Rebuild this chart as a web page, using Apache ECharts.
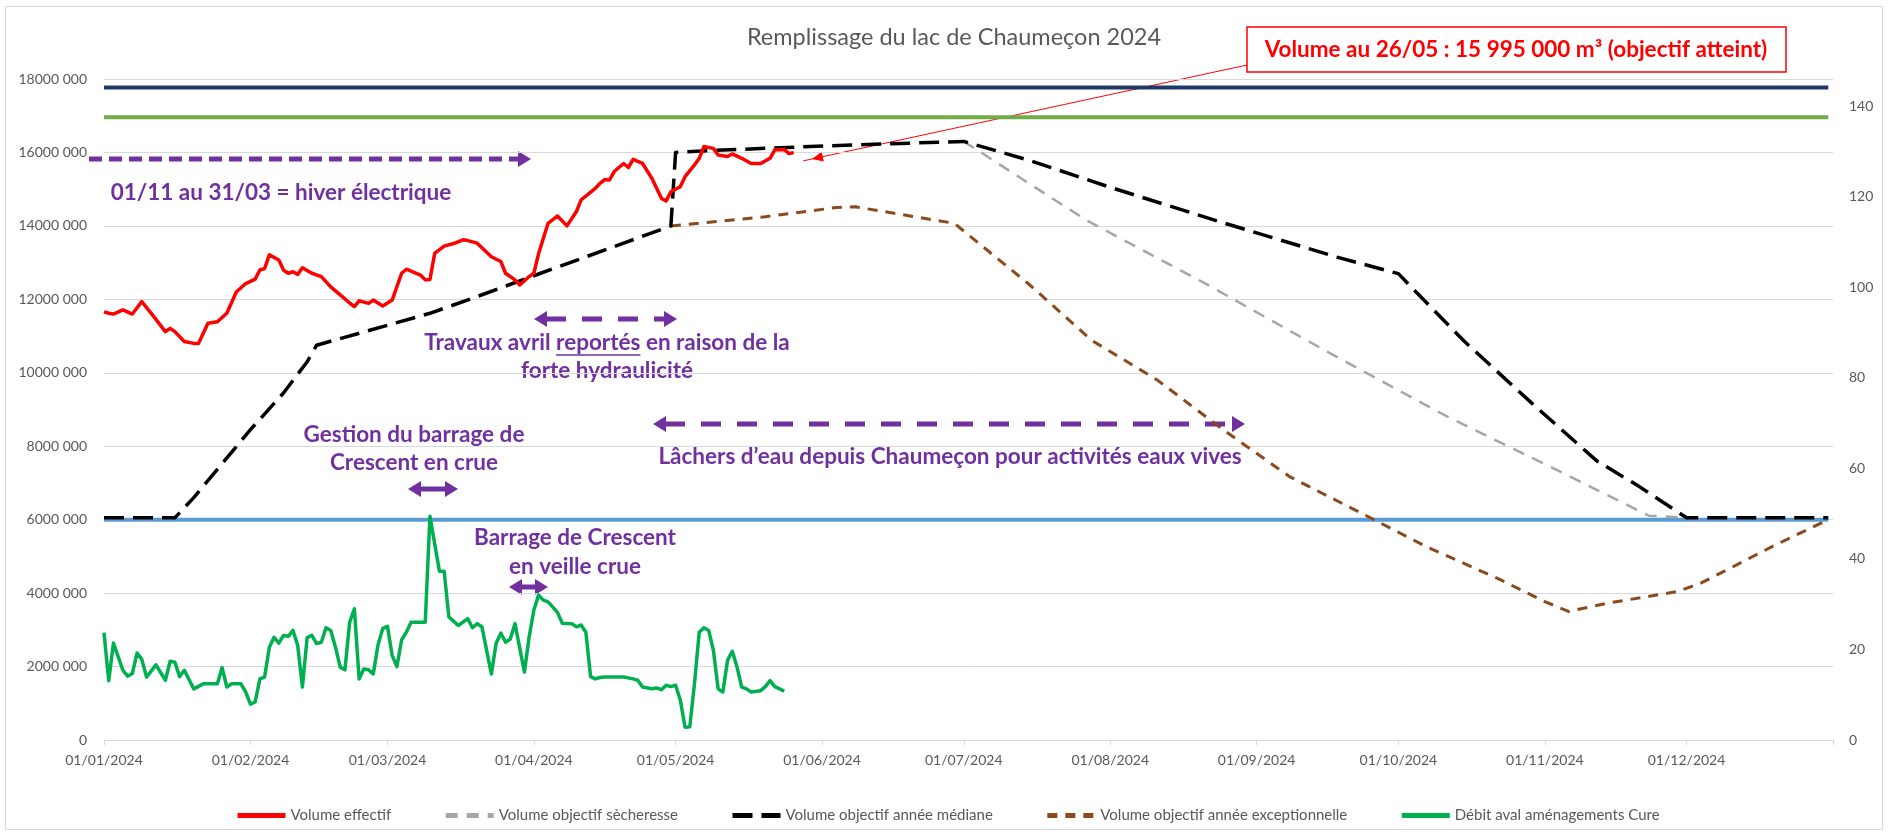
<!DOCTYPE html>
<html lang="fr">
<head>
<meta charset="UTF-8">
<title>Remplissage du lac de Chaumeçon 2024</title>
<script src="https://cdn.jsdelivr.net/npm/echarts@6/dist/echarts.min.js"></script>
<style>
html, body { margin: 0; padding: 0; background: #fff; }
#main { width: 1889px; height: 837px; }
</style>
</head>
<body>
<div id="main"></div>
<script type="text/javascript">
// Volumes in millions of m3 (left axis), flow on the right axis

const monthTicks = ['2024-01-01', '2024-02-01', '2024-03-01', '2024-04-01', '2024-05-01', '2024-06-01',
  '2024-07-01', '2024-08-01', '2024-09-01', '2024-10-01', '2024-11-01', '2024-12-01', '2025-01-01'];

const volumeEffectif = [
  ['2024-01-01', 11.66], ['2024-01-02', 11.62], ['2024-01-03', 11.6], ['2024-01-05', 11.71], ['2024-01-07', 11.6],
  ['2024-01-09', 11.94], ['2024-01-11', 11.62], ['2024-01-14', 11.12], ['2024-01-15', 11.21], ['2024-01-16', 11.12],
  ['2024-01-18', 10.85], ['2024-01-20', 10.8], ['2024-01-21', 10.8], ['2024-01-23', 11.35], ['2024-01-25', 11.39],
  ['2024-01-27', 11.62], ['2024-01-29', 12.2], ['2024-01-31', 12.43], ['2024-02-02', 12.55], ['2024-02-03', 12.8],
  ['2024-02-04', 12.84], ['2024-02-05', 13.21], ['2024-02-07', 13.07], ['2024-02-08', 12.8], ['2024-02-09', 12.71],
  ['2024-02-10', 12.75], ['2024-02-11', 12.68], ['2024-02-12', 12.86], ['2024-02-14', 12.71], ['2024-02-16', 12.62],
  ['2024-02-18', 12.34], ['2024-02-20', 12.12], ['2024-02-22', 11.9], ['2024-02-23', 11.8], ['2024-02-24', 11.96],
  ['2024-02-26', 11.89], ['2024-02-27', 11.98], ['2024-02-29', 11.82], ['2024-03-02', 11.98], ['2024-03-04', 12.71],
  ['2024-03-05', 12.82], ['2024-03-08', 12.66], ['2024-03-09', 12.53], ['2024-03-10', 12.54], ['2024-03-11', 13.25],
  ['2024-03-13', 13.45], ['2024-03-15', 13.52], ['2024-03-17', 13.62], ['2024-03-18', 13.6], ['2024-03-20', 13.53],
  ['2024-03-23', 13.16], ['2024-03-25', 13.03], ['2024-03-26', 12.71], ['2024-03-28', 12.53], ['2024-03-29', 12.39],
  ['2024-03-31', 12.62], ['2024-04-01', 12.71], ['2024-04-02', 13.25], ['2024-04-04', 14.07], ['2024-04-06', 14.27],
  ['2024-04-08', 14.0], ['2024-04-10', 14.39], ['2024-04-11', 14.71], ['2024-04-14', 15.02], ['2024-04-15', 15.16],
  ['2024-04-16', 15.26], ['2024-04-17', 15.25], ['2024-04-18', 15.48], ['2024-04-20', 15.7], ['2024-04-21', 15.59],
  ['2024-04-22', 15.81], ['2024-04-24', 15.7], ['2024-04-26', 15.29], ['2024-04-28', 14.75], ['2024-04-29', 14.68],
  ['2024-04-30', 14.93], ['2024-05-01', 15.0], ['2024-05-02', 15.07], ['2024-05-03', 15.34], ['2024-05-05', 15.66],
  ['2024-05-06', 15.84], ['2024-05-07', 16.16], ['2024-05-09', 16.11], ['2024-05-10', 15.93], ['2024-05-12', 15.89],
  ['2024-05-13', 15.96], ['2024-05-15', 15.84], ['2024-05-17', 15.7], ['2024-05-19', 15.7], ['2024-05-21', 15.84],
  ['2024-05-22', 16.07], ['2024-05-24', 16.08], ['2024-05-25', 15.97], ['2024-05-26', 15.995]
];

const objectifSecheresse = [
  ['2024-07-01', 16.3], ['2024-07-27', 14.15], ['2024-08-21', 12.44], ['2024-09-15', 10.64],
  ['2024-10-11', 8.83], ['2024-11-05', 7.26], ['2024-11-23', 6.11], ['2024-12-01', 6.05]
];

const objectifMediane = [
  ['2024-01-01', 6.05], ['2024-01-16', 6.05], ['2024-01-20', 6.6], ['2024-02-01', 8.45], ['2024-02-08', 9.45],
  ['2024-02-13', 10.3], ['2024-02-15', 10.75], ['2024-03-10', 11.62], ['2024-03-19', 12.03], ['2024-04-02', 12.69],
  ['2024-04-20', 13.53], ['2024-04-30', 14.0], ['2024-05-01', 16.0], ['2024-05-08', 16.05], ['2024-06-02', 16.18],
  ['2024-07-01', 16.3], ['2024-07-15', 15.78], ['2024-08-01', 15.05], ['2024-08-25', 14.08], ['2024-09-18', 13.15],
  ['2024-10-01', 12.7], ['2024-10-04', 12.3], ['2024-10-15', 10.85], ['2024-10-29', 9.2], ['2024-11-12', 7.6],
  ['2024-11-21', 6.9], ['2024-12-01', 6.05], ['2024-12-31', 6.05]
];

const objectifExceptionnel = [
  ['2024-04-30', 14.0], ['2024-05-20', 14.25], ['2024-06-04', 14.5], ['2024-06-08', 14.52], ['2024-06-29', 14.07],
  ['2024-07-15', 12.39], ['2024-07-28', 10.89], ['2024-08-11', 9.8], ['2024-08-25', 8.44], ['2024-09-08', 7.17],
  ['2024-09-26', 5.99], ['2024-10-07', 5.26], ['2024-10-22', 4.4], ['2024-11-01', 3.77], ['2024-11-06', 3.5],
  ['2024-11-14', 3.72], ['2024-11-29', 4.04], ['2024-12-04', 4.27], ['2024-12-13', 4.86], ['2024-12-19', 5.26],
  ['2024-12-31', 6.0]
];

const debitCure = [
  ['2024-01-01', 23.7], ['2024-01-02', 13.1], ['2024-01-03', 21.4], ['2024-01-05', 15.4], ['2024-01-06', 14.1],
  ['2024-01-07', 14.7], ['2024-01-08', 19.2], ['2024-01-09', 17.8], ['2024-01-10', 13.9], ['2024-01-12', 16.6],
  ['2024-01-14', 13.2], ['2024-01-15', 17.4], ['2024-01-16', 17.2], ['2024-01-17', 14.0], ['2024-01-18', 15.4],
  ['2024-01-20', 11.3], ['2024-01-22', 12.4], ['2024-01-25', 12.4], ['2024-01-26', 16.0], ['2024-01-27', 11.7],
  ['2024-01-28', 12.4], ['2024-01-30', 12.4], ['2024-01-31', 10.6], ['2024-02-01', 7.9], ['2024-02-02', 8.4],
  ['2024-02-03', 13.5], ['2024-02-04', 13.9], ['2024-02-05', 20.5], ['2024-02-06', 22.7], ['2024-02-07', 21.4],
  ['2024-02-08', 23.1], ['2024-02-09', 22.9], ['2024-02-10', 24.2], ['2024-02-11', 20.9], ['2024-02-12', 11.7],
  ['2024-02-13', 22.6], ['2024-02-14', 23.1], ['2024-02-15', 21.3], ['2024-02-16', 21.6], ['2024-02-17', 24.8],
  ['2024-02-18', 24.2], ['2024-02-19', 20.5], ['2024-02-20', 16.1], ['2024-02-21', 15.5], ['2024-02-22', 26.0],
  ['2024-02-23', 29.0], ['2024-02-24', 13.5], ['2024-02-25', 15.7], ['2024-02-26', 15.5], ['2024-02-27', 14.6],
  ['2024-02-28', 21.0], ['2024-02-29', 24.6], ['2024-03-01', 25.1], ['2024-03-02', 18.7], ['2024-03-03', 16.2],
  ['2024-03-04', 22.1], ['2024-03-05', 23.8], ['2024-03-06', 26.0], ['2024-03-09', 26.0], ['2024-03-10', 49.4],
  ['2024-03-12', 37.3], ['2024-03-13', 37.3], ['2024-03-14', 27.2], ['2024-03-16', 25.3], ['2024-03-18', 26.8],
  ['2024-03-19', 24.8], ['2024-03-20', 25.7], ['2024-03-21', 25.0], ['2024-03-23', 14.6], ['2024-03-24', 21.3],
  ['2024-03-25', 23.6], ['2024-03-26', 21.6], ['2024-03-27', 22.3], ['2024-03-28', 25.7], ['2024-03-30', 15.0],
  ['2024-03-31', 22.8], ['2024-04-01', 28.7], ['2024-04-02', 32.0], ['2024-04-03', 30.9], ['2024-04-04', 30.5],
  ['2024-04-06', 28.2], ['2024-04-07', 25.8], ['2024-04-09', 25.7], ['2024-04-10', 25.0], ['2024-04-11', 25.4],
  ['2024-04-12', 23.8], ['2024-04-13', 14.0], ['2024-04-14', 13.5], ['2024-04-15', 13.8], ['2024-04-16', 13.9],
  ['2024-04-18', 13.9], ['2024-04-20', 13.9], ['2024-04-22', 13.5], ['2024-04-23', 13.2], ['2024-04-24', 11.7],
  ['2024-04-26', 11.3], ['2024-04-27', 11.5], ['2024-04-28', 11.1], ['2024-04-29', 12.1], ['2024-04-30', 11.8],
  ['2024-05-01', 12.1], ['2024-05-02', 8.8], ['2024-05-03', 2.8], ['2024-05-04', 2.9], ['2024-05-05', 12.5],
  ['2024-05-06', 23.8], ['2024-05-07', 24.8], ['2024-05-08', 24.2], ['2024-05-09', 19.8], ['2024-05-10', 11.3],
  ['2024-05-11', 10.6], ['2024-05-12', 17.6], ['2024-05-13', 19.6], ['2024-05-14', 16.1], ['2024-05-15', 11.7],
  ['2024-05-16', 11.3], ['2024-05-17', 10.6], ['2024-05-19', 10.9], ['2024-05-20', 11.8], ['2024-05-21', 13.1],
  ['2024-05-22', 11.8], ['2024-05-24', 10.8]
];

// horizontal reference levels (millions of m3)
const yearBounds = ['2024-01-01', '2024-12-31'];
const repereHaut = 17.77;
const repereMoyen = 16.96;
const repereBas = 6.0;

const GRAY = '#595959';
const PURPLE = '#7030a0';
const FONT = 'Lato';
const BOLD = 'bold 22.5px Lato';

const toTime = (s) => { const p = s.split('-'); return new Date(+p[0], +p[1] - 1, +p[2]).getTime(); };
const pad = (n) => (n < 10 ? '0' : '') + n;
const fmtDate = (v) => { const d = new Date(v); return pad(d.getDate()) + '/' + pad(d.getMonth() + 1) + '/' + d.getFullYear(); };
const asTime = (rows) => rows.map((r) => [toTime(r[0]), r[1]]);
const flat = (v) => yearBounds.map((d) => [toTime(d), v]);

function lineSeries(name, data, color, width, dash, yIndex, z) {
  return {
    name: name, type: 'line', data: data, yAxisIndex: yIndex || 0,
    showSymbol: false, symbol: 'none', silent: true, z: z || 2,
    lineStyle: { color: color, width: width, type: dash || 'solid', cap: 'butt', join: 'round' },
    itemStyle: { color: color }
  };
}

// ---- annotation shapes ----
function head(x, y, dir) {
  return { type: 'polygon', shape: { points: [[x, y], [x - dir * 13, y - 8], [x - dir * 13, y + 8]] }, style: { fill: PURPLE } };
}
function hArrow(x1, x2, y, dash, both) {
  const style = { stroke: PURPLE, lineWidth: 5 };
  if (dash) style.lineDash = dash;
  const els = [{ type: 'line', shape: { x1: both ? x1 + 12 : x1, y1: y, x2: x2 - 12, y2: y }, style: style }];
  els.push(head(x2, y, 1));
  if (both) els.push(head(x1, y, -1));
  return els;
}
function txt(text, x, y, font, fill) {
  return { type: 'text', x: x, y: y, style: { text: text, font: font, fill: fill, align: 'center', verticalAlign: 'middle' } };
}

// underline for "reportés"
const ctx = document.createElement('canvas').getContext('2d');
ctx.font = BOLD;
const travaux1 = 'Travaux avril reportés en raison de la';
const uStart = 607 - ctx.measureText(travaux1).width / 2 + ctx.measureText('Travaux avril ').width;
const uEnd = uStart + ctx.measureText('reportés').width;

// red call-out arrow
const ax1 = 1247, ay1 = 65, ax2 = 812, ay2 = 159;
const ang = Math.atan2(ay2 - ay1, ax2 - ax1);
const redHead = [[ax2, ay2],
  [ax2 - 11 * Math.cos(ang) + 5 * Math.sin(ang), ay2 - 11 * Math.sin(ang) - 5 * Math.cos(ang)],
  [ax2 - 11 * Math.cos(ang) - 5 * Math.sin(ang), ay2 - 11 * Math.sin(ang) + 5 * Math.cos(ang)]];

const graphics = [].concat(
  [{ type: 'rect', shape: { x: 5.5, y: 6.5, width: 1877, height: 823 }, style: { fill: 'none', stroke: '#d9d9d9', lineWidth: 1 }, z: -1 }],
  [txt('Remplissage du lac de Chaumeçon 2024', 954, 37, 'normal 23.5px ' + FONT, GRAY)],
  hArrow(89, 531, 159, [13, 7], false),
  [txt('01/11 au 31/03 = hiver électrique', 281, 193, BOLD, PURPLE)],
  hArrow(534, 677, 319, [20, 16], true),
  [txt(travaux1, 607, 343, BOLD, PURPLE), txt('forte hydraulicité', 607, 371, BOLD, PURPLE),
   { type: 'line', shape: { x1: uStart, y1: 355, x2: uEnd, y2: 355 }, style: { stroke: PURPLE, lineWidth: 1.5 } }],
  [txt('Gestion du barrage de', 414, 435, BOLD, PURPLE), txt('Crescent en crue', 414, 463, BOLD, PURPLE)],
  hArrow(408, 458, 489, null, true),
  [txt('Barrage de Crescent', 575, 538, BOLD, PURPLE), txt('en veille crue', 575, 567, BOLD, PURPLE)],
  hArrow(509, 548, 587, null, true),
  hArrow(653, 1245, 424, [20, 16], true),
  [txt('Lâchers d’eau depuis Chaumeçon pour activités eaux vives', 950, 457, BOLD, PURPLE)],
  [{ type: 'line', shape: { x1: ax1, y1: ay1, x2: ax2 + 9 * Math.cos(ang), y2: ay2 + 9 * Math.sin(ang) }, style: { stroke: '#ff0000', lineWidth: 1 } },
   { type: 'polygon', shape: { points: redHead }, style: { fill: '#ff0000' } },
   { type: 'rect', shape: { x: 1247, y: 27, width: 539, height: 45 }, style: { fill: '#fff', stroke: '#ff0000', lineWidth: 1.5 } },
   txt('Volume au 26/05 : 15 995 000 m³ (objectif atteint)', 1516, 50, 'bold 22.5px Lato', '#ff0000')]
);

const options = {
  animation: false,
  textStyle: { fontFamily: FONT },
  grid: { left: 104, right: 56, top: 79, bottom: 97 },
  legend: {
    data: ['Volume effectif', 'Volume objectif sècheresse', 'Volume objectif année médiane',
      'Volume objectif année exceptionnelle', 'Débit aval aménagements Cure'],
    left: 230, top: 803, itemWidth: 48, itemHeight: 16, itemGap: 52,
    itemStyle: { opacity: 0, borderWidth: 0 },
    lineStyle: { width: 5 },
    textStyle: { color: GRAY, fontSize: 15, fontFamily: FONT }
  },
  xAxis: {
    type: 'value',
    min: toTime(monthTicks[0]), max: toTime(monthTicks[monthTicks.length - 1]),
    axisLine: { lineStyle: { color: '#d9d9d9', width: 1 } },
    axisTick: { show: true, length: 5, lineStyle: { color: '#d9d9d9' }, customValues: monthTicks.map(toTime) },
    axisLabel: { color: GRAY, fontSize: 14, margin: 13, formatter: fmtDate,
      customValues: monthTicks.slice(0, 12).map(toTime) },
    splitLine: { show: false }
  },
  yAxis: [
    {
      type: 'value', min: 0, max: 18, interval: 2,
      axisLine: { show: false }, axisTick: { show: false },
      axisLabel: { color: GRAY, fontSize: 14, margin: 17, formatter: (v) => (v === 0 ? '0' : (v * 1000) + ' 000') },
      splitLine: { lineStyle: { color: '#d9d9d9', width: 1 } }
    },
    {
      type: 'value', min: 0, max: 146, interval: 20, position: 'right',
      axisLine: { show: false }, axisTick: { show: false },
      axisLabel: { color: GRAY, fontSize: 14, margin: 16, showMaxLabel: false },
      splitLine: { show: false }
    }
  ],
  series: [
    lineSeries('Repère haut', flat(repereHaut), '#203864', 4),
    lineSeries('Repère moyen', flat(repereMoyen), '#70ad47', 4),
    lineSeries('Repère bas', flat(repereBas), '#5b9bd5', 4),
    lineSeries('Volume objectif sècheresse', asTime(objectifSecheresse), '#a6a6a6', 2.5, [12, 9], 0, 3),
    lineSeries('Volume objectif année exceptionnelle', asTime(objectifExceptionnel), '#8a4a1c', 3, [10, 8], 0, 3),
    lineSeries('Volume objectif année médiane', asTime(objectifMediane), '#000000', 3.5, [20, 9], 0, 4),
    lineSeries('Volume effectif', asTime(volumeEffectif), '#ff0000', 3.5, null, 0, 5),
    lineSeries('Débit aval aménagements Cure', asTime(debitCure), '#00b050', 3.5, null, 1, 5)
  ],
  graphic: graphics
};

let myChart = echarts.init(document.getElementById('main'));
myChart.setOption(options);
</script>
</body>
</html>
